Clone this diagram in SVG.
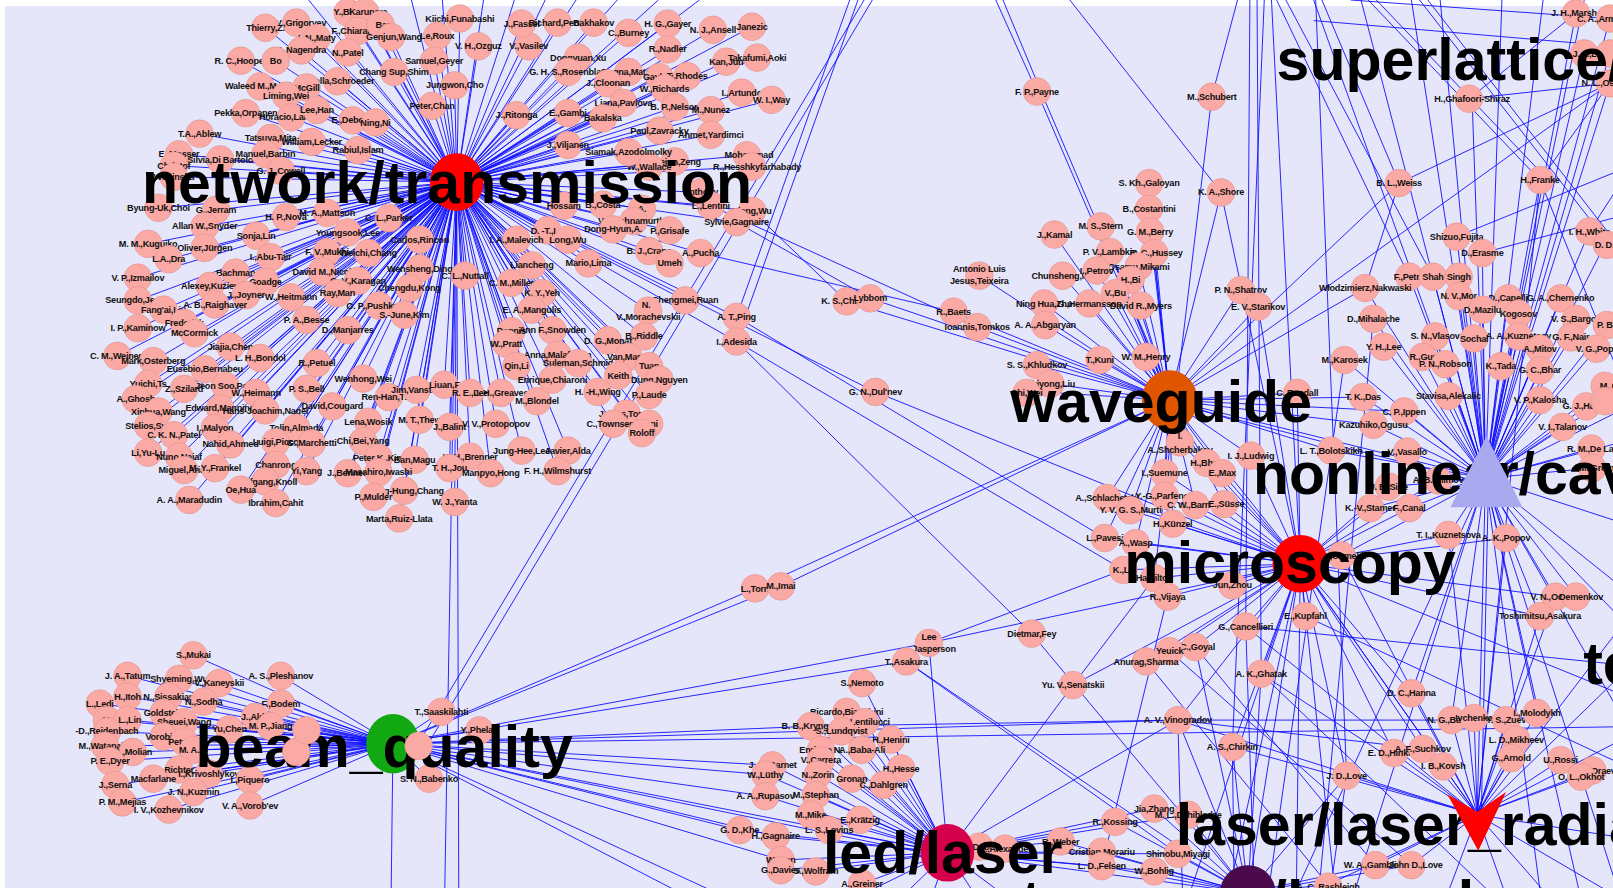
<svg xmlns="http://www.w3.org/2000/svg" width="1613" height="888" viewBox="0 0 1613 888">
<style>
.e{fill:none;stroke:#0c0cff;stroke-width:0.95;opacity:0.9}
#authors circle{fill:#fba9a4;stroke:#de948f;stroke-width:0.6}
#authors text{font-family:"Liberation Sans",Arial,sans-serif;font-weight:bold;font-size:8.9px;text-anchor:middle;letter-spacing:-0.25px;fill:#111}
.hl{font-family:"Liberation Sans",Arial,sans-serif;font-weight:bold;font-size:57.4px;fill:#000}
</style>
<rect width="1613" height="888" fill="#ffffff"/>
<rect x="5" y="6" width="1608" height="882" fill="#e6e6fa"/>
<g transform="scale(1.0287)">
<g id="connectors">
<path class="e" d="M444 177L338 12M444 177L355 12M444 177L288 22M444 177L258 27M444 177L348 30M444 177L370 24M444 177L380 36M444 177L308 37M444 177L293 49M444 177L338 51M444 177L234 59M444 177L268 59M444 177L447 18M444 177L425 35M444 177L465 45M444 177L514 45M444 177L422 59M444 177L507 23M444 177L542 22M444 177L577 22M444 177L611 32M444 177L649 23M444 177L693 29M444 177L731 26M444 177L649 48M444 177L706 60M444 177L736 56M444 177L562 56M444 177L552 70M444 177L611 70M444 177L641 75M444 177L668 74M444 177L591 81M444 177L646 86M444 177L721 90M444 177L750 97M444 177L606 100M444 177L656 104M444 177L691 107M444 177L641 127M444 177L691 131M444 177L726 151M444 177L731 162M444 177L656 157M444 177L631 162M444 177L611 148M444 177L552 141M444 177L586 115M444 177L552 110M444 177L502 112M444 177L383 70M444 177L442 83M444 177L420 103M444 177L328 79M444 177L253 84M444 177L298 85M444 177L278 93M444 177L239 110M444 177L283 114M444 177L308 107M444 177L343 117M444 177L365 119M444 177L194 130M444 177L263 134M444 177L303 138M444 177L348 146M444 177L174 150M444 177L214 155M444 177L258 150M444 177L169 161M444 177L169 172M444 177L273 166M444 177L154 202M444 177L210 204M444 177L278 211M444 177L318 207M444 177L378 212M444 177L199 220M444 177L249 229M444 177L338 226M444 177L408 233M444 177L144 237M444 177L199 241M444 177L164 252M444 177L263 250M444 177L318 245M444 177L358 246M444 177L134 270M444 177L229 265M444 177L258 274M444 177L313 264M444 177L348 273M444 177L408 261M444 177L452 268M444 177L398 280M444 177L204 278M444 177L134 292M444 177L159 301M444 177L239 287M444 177L283 289M444 177L328 285M444 177L368 297M444 177L209 296M444 177L393 306M444 177L134 319M444 177L179 314M444 177L298 311M444 177L338 321M444 177L189 324M444 177L224 337M444 177L114 346M444 177L149 351M444 177L253 348M444 177L199 359M444 177L308 353M444 177L144 373M444 177L179 378M444 177L219 375M444 177L249 382M444 177L298 378M444 177L353 368M444 177L378 386M444 177L405 379M444 177L432 374M444 177L457 382M444 177L487 382M444 177L522 390M444 177L132 388M444 177L214 397M444 177L154 400M444 177L258 399M444 177L323 395M444 177L144 414M444 177L209 416M444 177L288 416M444 177L358 410M444 177L408 408M444 177L437 415M444 177L482 412M444 177L169 423M444 177L224 432M444 177L268 430M444 177L303 431M444 177L353 429M444 177L144 440M444 177L174 444M444 177L507 438M444 177L552 438M444 177L368 445M444 177L403 447M444 177L457 444M444 177L179 457M444 177L209 455M444 177L268 452M444 177L298 458M444 177L338 460M444 177L368 459M444 177L437 455M444 177L477 460M444 177L542 458M444 177L258 468M444 177L184 486M444 177L234 476M444 177L268 489M444 177L393 477M444 177L363 483M444 177L442 488M444 177L388 504M444 177L586 199M444 177L548 200M444 177L624 203M444 177L681 187M444 177L691 200M444 177L731 205M444 177L616 215M444 177L716 216M444 177L596 223M444 177L651 224M444 177L532 224M444 177L552 233M444 177L502 233M444 177L631 244M444 177L681 246M444 177L651 256M444 177L517 258M444 177L572 256M444 177L497 275M444 177L527 285M444 177L517 301M444 177L666 292M444 177L630 302M444 177L716 308M444 177L716 332M444 177L626 327M444 177L591 331M444 177L497 322M444 177L537 321M444 177L492 334M444 177L542 345M444 177L611 347M444 177L562 353M444 177L502 356M444 177L631 356M444 177L601 365M444 177L641 369M444 177L537 369M444 177L581 381M444 177L631 384M444 177L609 402M444 177L596 412M444 177L631 412M444 177L624 421M444 177L300 0M444 177L350 0M444 177L400 0M444 177L430 0M444 177L470 0M444 177L500 0M444 177L530 0M444 177L560 0M444 177L600 0M444 177L640 0M444 177L680 0M444 177L432 888M444 177L446 888M444 177L851 381"/>
<path class="e" d="M382 723L188 637M382 723L124 657M382 723L174 660M382 723L213 664M382 723L273 657M382 723L124 677M382 723L164 677M382 723L97 684M382 723L198 682M382 723L273 684M382 723L159 693M382 723L104 700M382 723L124 700M382 723L179 702M382 723L248 697M382 723L104 711M382 723L223 709M382 723L263 706M382 723L298 710M382 723L102 725M382 723L159 716M382 723L179 721M382 723L129 731M382 723L188 729M382 723L288 731M382 723L107 740M382 723L174 748M382 723L203 752M382 723L149 757M382 723L243 758M382 723L112 763M382 723L188 770M382 723L119 780M382 723L164 787M382 723L243 783M382 723L429 692M382 723L466 710M382 723L407 725M382 723L417 757M382 723L734 572M382 723L759 570M382 723L903 625M382 723L881 643M382 723L788 706M382 723L1613 706M382 723L1145 700M382 723L751 744M382 723L744 753M382 723L744 774M382 723L719 807M382 723L754 813M382 723L921 829M382 723L917 833M382 723L759 836M382 723L700 888M382 723L740 888M382 723L380 888M840 0L410 717M848 0L418 720"/>
<path class="e" d="M1137 389L1008 89M1140 389L1012 89M1137 389L1117 178M1137 389L1187 187M1137 389L1117 203M1137 389L1025 228M1137 389L1070 220M1137 389L1118 225M1137 389L1079 245M1137 389L1122 246M1137 389L1107 259M1137 389L1033 268M1137 389L1066 263M1137 389L1099 272M1137 389L1084 285M1137 389L1015 295M1137 389L1059 295M1137 389L1109 297M1137 389L952 268M1137 389L823 293M1137 389L846 290M1137 389L927 303M1137 389L950 318M1137 389L1016 316M1137 389L1069 350M1137 389L1114 347M1137 389L1008 355M1137 389L1021 373M1137 389L998 380M1137 389L1206 282M1137 389L1223 298M1137 389L1147 430M1137 389L1173 450M1137 389L1216 443M1137 389L1132 460M1137 389L1188 460M1137 389L1076 484M1137 389L1132 482M1137 389L1099 496M1137 389L1162 491M1137 389L1190 490M1137 389L1140 509M1137 389L1074 523M1137 389L1104 528M1137 389L734 572M1137 389L759 570M1137 389L1360 178M1137 389L1565 81M1137 389L1261 382M1137 389L1325 386M1137 389L1365 400M1137 389L1335 413M1137 389L1294 438M1137 389L1444 465M1140 392L1444 470M1137 389L1264 548M1137 389L1327 280M968 0L1008 89M975 0L1012 89M1040 0L1187 187M1203 0L1178 94M1178 94L1122 562M731 205L823 293M716 216L846 290M681 246L927 303M691 200L950 318M716 308L1074 523M716 332L1092 554M716 332L1003 616M851 381L1264 548M826 0L716 308M834 0L716 332"/>
<path class="e" d="M1264 548L1147 430M1264 548L1173 450M1264 548L1216 443M1264 548L1132 460M1264 548L1188 460M1264 548L1076 484M1264 548L1132 482M1264 548L1099 496M1264 548L1162 491M1264 548L1190 490M1264 548L1140 509M1264 548L1074 523M1264 548L1104 528M1264 548L1092 554M1264 548L1122 562M1264 548L1198 569M1264 548L1304 540M1264 548L1135 580M1264 548L1269 599M1264 548L1211 609M1264 548L1162 629M1264 548L1137 633M1264 548L1114 643M1264 548L1226 655M1264 548L1332 494M1264 548L1370 494M1264 548L1408 520M1264 548L1464 523M1264 548L1350 473M1264 548L1398 467M1264 548L1261 382M1264 548L1223 298M1264 548L1187 187M1264 548L903 625M1264 548L1043 666M1264 548L1145 700M1264 548L1198 726M1264 548L1372 674M1264 548L1309 754M1264 548L1436 792M1264 548L1213 868M1264 548L1150 888M1264 548L1190 888M1264 548L1260 888M1264 548L1300 888M1264 548L1512 580M1264 548L1497 599M1264 548L1355 732M1264 548L1403 745M1264 548L1383 728M1264 548L1613 690M1215 0L1211 609M1222 0L1226 655M1229 0L1198 726M1236 0L1264 548M1279 0L1309 754M903 625L1092 554M881 643L1145 830M903 625L921 829M1043 666L1122 562M1043 666L921 829M1003 616L1213 868M788 706L1145 700M1145 700L1383 728M1145 700L1411 700M1211 609L1220 888M1226 655L1213 868M1198 726L1200 888M1145 700L1150 888M1309 754L1290 888M1162 629L1337 841M1137 633L1372 841M1114 643L1291 860M1135 580L1071 842M1269 599L1613 760M1211 609L1613 650M1226 655L1470 888"/>
<path class="e" d="M1444 465L1431 96M1444 465L1532 13M1444 465L1565 18M1444 465L1540 52M1444 465L1565 52M1444 465L1565 81M1444 465L1497 175M1444 465L1416 230M1444 465L1441 246M1444 465L1545 225M1444 465L1560 238M1444 465L1370 269M1444 465L1393 269M1444 465L1418 269M1444 465L1418 288M1444 465L1466 290M1444 465L1517 290M1444 465L1441 301M1444 465L1476 305M1444 465L1327 280M1444 465L1335 310M1444 465L1532 310M1444 465L1562 316M1444 465L1395 327M1444 465L1433 329M1444 465L1476 327M1444 465L1527 328M1444 465L1552 339M1444 465L1345 337M1444 465L1497 339M1444 465L1307 350M1444 465L1383 347M1444 465L1405 354M1444 465L1459 356M1444 465L1497 360M1444 465L1325 386M1444 465L1408 385M1444 465L1497 389M1444 465L1542 395M1444 465L1365 400M1444 465L1335 413M1444 465L1519 415M1444 465L1547 436M1444 465L1560 375M1444 465L1560 390M1444 465L1294 438M1444 465L1368 439M1444 465L1398 467M1444 465L1350 473M1444 465L1332 494M1444 465L1370 494M1444 465L1548 455M1444 465L1408 520M1444 465L1464 523M1444 465L1304 540M1444 465L1512 580M1444 465L1532 580M1444 465L1497 599M1444 465L1372 674M1444 465L1411 700M1444 465L1494 693M1444 465L1436 792M1447 465L1440 792M1444 465L1500 888M1444 465L1540 888M1444 465L1580 888M1444 465L1613 760M1444 465L1613 380M1444 465L1613 420M1444 465L1613 520M1444 465L1613 600M1444 465L1613 640M1444 465L1277 0M1444 465L1323 0M1444 465L1372 0M1444 465L1400 0M1444 465L1460 0M1444 465L1500 0M1444 465L1540 0M1444 465L1310 888M1444 465L1250 888M1360 178L1565 81M1360 178L1327 280M1497 175L1565 81M1497 175L1436 792M1277 20L1535 42M1313 0L1565 18M1428 96L1565 81M1428 96L1532 13M1416 230L1613 150M1441 246L1613 200M1285 0L1360 178M1330 0L1497 175M1338 0L1505 175M1380 0L1613 300M1388 0L1613 290M1241 0L1370 269M1250 0L1393 269M1545 225L1613 120M1497 175L1613 460M1335 310L1280 888M1307 350L1230 888"/>
<path class="e" d="M1436 792L1372 674M1436 792L1411 700M1436 792L1433 698M1436 792L1464 700M1436 792L1494 693M1436 792L1474 719M1436 792L1355 732M1436 792L1383 728M1436 792L1469 737M1436 792L1517 739M1436 792L1548 749M1436 792L1537 755M1436 792L1403 745M1436 792L1309 754M1436 792L1337 841M1436 792L1372 841M1436 792L1291 860M1436 792L1400 888M1436 792L1470 888M1436 792L1520 888M1436 792L1600 888M1436 792L1613 700M1436 792L1613 820M1436 792L1211 609M1436 792L1226 655M1436 792L1198 726M1436 792L1145 700M1436 792L1512 580M1436 792L1497 599M1436 792L1464 523M1436 792L1408 520M1436 792L1304 540M1436 792L1613 560M1436 792L1613 620"/>
<path class="e" d="M921 829L838 664M921 829L823 692M921 829L841 702M921 829L788 706M921 829L818 711M921 829L866 719M921 829L798 729M921 829L838 729M921 829L798 739M921 829L876 747M921 829L751 744M921 829L744 753M921 829L795 753M921 829L828 757M921 829L859 763M921 829L744 774M921 829L793 773M921 829L788 792M921 829L836 797M921 829L806 807M921 829L719 807M921 829L754 813M921 829L759 836M921 829L759 846M921 829L793 847M921 829L838 859M921 829L952 823M921 829L977 825M921 829L1031 818M921 829L1084 799M921 829L1122 786M921 829L1155 792M921 829L1071 828M921 829L1145 830M921 829L1071 842M921 829L1122 847M921 829L1213 868M921 829L1145 700M921 829L860 888M921 829L900 888M921 829L960 888M921 829L1000 888M921 829L800 888M1213 868L1031 818M1213 868L1071 828M1213 868L1071 842M1213 868L1122 847M1213 868L1145 830M1213 868L1084 799M1213 868L1122 786M1213 868L1155 792M1213 868L1337 841M1213 868L1372 841M1213 868L1291 860M1213 868L1309 754M1213 868L1162 629M1213 868L1145 700M1213 868L1198 726M1213 868L881 643"/>
</g>
<g id="authors">
<g id="p1"><circle cx="338" cy="12" r="13.5"/><text x="338" y="15">Y.,Blad</text></g>
<g id="p2"><circle cx="355" cy="12" r="13.5"/><text x="358" y="15">Karunara</text></g>
<g id="p3"><circle cx="288" cy="22" r="13.5"/><text x="288" y="25">V. V.,Grigoryev</text></g>
<g id="p4"><circle cx="258" cy="27" r="13.5"/><text x="258" y="30">Thierry,Z.</text></g>
<g id="p5"><circle cx="348" cy="30" r="13.5"/><text x="348" y="33">F.,Chiaraluce</text></g>
<g id="p6"><circle cx="370" cy="24" r="13.5"/><text x="372" y="27">Bar</text></g>
<g id="p7"><circle cx="380" cy="36" r="13.5"/><text x="383" y="39">Genjun,Wang</text></g>
<g id="p8"><circle cx="308" cy="37" r="13.5"/><text x="308" y="40">I. N.,Maty</text></g>
<g id="p9"><circle cx="293" cy="49" r="13.5"/><text x="293" y="52">J.,Nagendra</text></g>
<g id="p10"><circle cx="338" cy="51" r="13.5"/><text x="338" y="54">N.,Patel</text></g>
<g id="p11"><circle cx="234" cy="59" r="13.5"/><text x="234" y="62">R. C.,Hooper</text></g>
<g id="p12"><circle cx="268" cy="59" r="13.5"/><text x="268" y="62">Bo</text></g>
<g id="p13"><circle cx="447" cy="18" r="13.5"/><text x="447" y="21">Kiichi,Funabashi</text></g>
<g id="p14"><circle cx="425" cy="35" r="13.5"/><text x="425" y="38">Le,Roux</text></g>
<g id="p15"><circle cx="465" cy="45" r="13.5"/><text x="465" y="48">V. H.,Ozguz</text></g>
<g id="p16"><circle cx="514" cy="45" r="13.5"/><text x="514" y="48">V.,Vasilev</text></g>
<g id="p17"><circle cx="422" cy="59" r="13.5"/><text x="422" y="62">Samuel,Geyer</text></g>
<g id="p18"><circle cx="507" cy="23" r="13.5"/><text x="507" y="26">J.,Fassel</text></g>
<g id="p19"><circle cx="542" cy="22" r="13.5"/><text x="542" y="25">Richard,Penty</text></g>
<g id="p20"><circle cx="577" cy="22" r="13.5"/><text x="577" y="25">Bakhakov</text></g>
<g id="p21"><circle cx="611" cy="32" r="13.5"/><text x="611" y="35">C.,Burney</text></g>
<g id="p22"><circle cx="649" cy="23" r="13.5"/><text x="649" y="26">H. G.,Gayer</text></g>
<g id="p23"><circle cx="693" cy="29" r="13.5"/><text x="693" y="32">N. J.,Ansell</text></g>
<g id="p24"><circle cx="731" cy="26" r="13.5"/><text x="731" y="29">Janezic</text></g>
<g id="p25"><circle cx="649" cy="48" r="13.5"/><text x="649" y="51">R.,Nadler</text></g>
<g id="p26"><circle cx="706" cy="60" r="13.5"/><text x="706" y="63">Kan,Jun</text></g>
<g id="p27"><circle cx="736" cy="56" r="13.5"/><text x="736" y="59">Takafumi,Aoki</text></g>
<g id="p28"><circle cx="562" cy="56" r="13.5"/><text x="562" y="59">Dongyuan,Xu</text></g>
<g id="p29"><circle cx="552" cy="70" r="13.5"/><text x="552" y="73">G. H. S.,Rosenblatt</text></g>
<g id="p30"><circle cx="611" cy="70" r="13.5"/><text x="611" y="73">Pagna,Matsz</text></g>
<g id="p31"><circle cx="641" cy="75" r="13.5"/><text x="641" y="78">Gaylord</text></g>
<g id="p32"><circle cx="668" cy="74" r="13.5"/><text x="668" y="77">T.,Rhodes</text></g>
<g id="p33"><circle cx="591" cy="81" r="13.5"/><text x="591" y="84">J.,Cloonan</text></g>
<g id="p34"><circle cx="646" cy="86" r="13.5"/><text x="646" y="89">W.,Richards</text></g>
<g id="p35"><circle cx="721" cy="90" r="13.5"/><text x="721" y="93">I.,Artundo</text></g>
<g id="p36"><circle cx="750" cy="97" r="13.5"/><text x="750" y="100">W. I.,Way</text></g>
<g id="p37"><circle cx="606" cy="100" r="13.5"/><text x="606" y="103">Liana,Pavlova</text></g>
<g id="p38"><circle cx="656" cy="104" r="13.5"/><text x="656" y="107">B. P.,Nelson</text></g>
<g id="p39"><circle cx="691" cy="107" r="13.5"/><text x="691" y="110">M.,Nunez</text></g>
<g id="p40"><circle cx="641" cy="127" r="13.5"/><text x="641" y="130">Paul,Zavracky</text></g>
<g id="p41"><circle cx="691" cy="131" r="13.5"/><text x="691" y="134">Ahmet,Yardimci</text></g>
<g id="p42"><circle cx="726" cy="151" r="13.5"/><text x="728" y="154">Mohammad</text></g>
<g id="p43"><circle cx="731" cy="162" r="13.5"/><text x="736" y="165">R.,Hesshkyfarhabady</text></g>
<g id="p44"><circle cx="656" cy="157" r="13.5"/><text x="656" y="160">Xuejun,Zeng</text></g>
<g id="p45"><circle cx="631" cy="162" r="13.5"/><text x="631" y="165">W.,Wallace</text></g>
<g id="p46"><circle cx="611" cy="148" r="13.5"/><text x="611" y="151">Siamak,Azodolmolky</text></g>
<g id="p47"><circle cx="552" cy="141" r="13.5"/><text x="552" y="144">J.,Viljanen</text></g>
<g id="p48"><circle cx="586" cy="115" r="13.5"/><text x="586" y="118">Bakalska</text></g>
<g id="p49"><circle cx="552" cy="110" r="13.5"/><text x="552" y="113">E.,Gambi</text></g>
<g id="p50"><circle cx="502" cy="112" r="13.5"/><text x="502" y="115">J.,Ritonga</text></g>
<g id="p51"><circle cx="383" cy="70" r="13.5"/><text x="383" y="73">Chang Sup,Shim</text></g>
<g id="p52"><circle cx="442" cy="83" r="13.5"/><text x="442" y="86">Jungwon,Cho</text></g>
<g id="p53"><circle cx="420" cy="103" r="13.5"/><text x="420" y="106">Peter,Chan</text></g>
<g id="p54"><circle cx="328" cy="79" r="13.5"/><text x="328" y="82">T.,Vella,Schroeder</text></g>
<g id="p55"><circle cx="253" cy="84" r="13.5"/><text x="253" y="87">Waleed M.,Melais</text></g>
<g id="p56"><circle cx="298" cy="85" r="13.5"/><text x="298" y="88">McGill</text></g>
<g id="p57"><circle cx="278" cy="93" r="13.5"/><text x="278" y="96">Liming,Wei</text></g>
<g id="p58"><circle cx="239" cy="110" r="13.5"/><text x="239" y="113">Pekka,Orpanen</text></g>
<g id="p59"><circle cx="283" cy="114" r="13.5"/><text x="283" y="117">Horacio,Lamela</text></g>
<g id="p60"><circle cx="308" cy="107" r="13.5"/><text x="308" y="110">Lee,Han</text></g>
<g id="p61"><circle cx="343" cy="117" r="13.5"/><text x="343" y="120">E.,Debono</text></g>
<g id="p62"><circle cx="365" cy="119" r="13.5"/><text x="365" y="122">Ning,Ni</text></g>
<g id="p63"><circle cx="194" cy="130" r="13.5"/><text x="194" y="133">T.A.,Ablew</text></g>
<g id="p64"><circle cx="263" cy="134" r="13.5"/><text x="263" y="137">Tatsuya,Mita</text></g>
<g id="p65"><circle cx="303" cy="138" r="13.5"/><text x="303" y="141">William,Lecker</text></g>
<g id="p66"><circle cx="348" cy="146" r="13.5"/><text x="348" y="149">Rabiul,Islam</text></g>
<g id="p67"><circle cx="174" cy="150" r="13.5"/><text x="174" y="153">E.,Mosser</text></g>
<g id="p68"><circle cx="214" cy="155" r="13.5"/><text x="214" y="158">Silvia,Di Bartolo</text></g>
<g id="p69"><circle cx="258" cy="150" r="13.5"/><text x="258" y="153">Manuel,Barbin</text></g>
<g id="p70"><circle cx="169" cy="161" r="13.5"/><text x="169" y="164">Christof</text></g>
<g id="p71"><circle cx="169" cy="172" r="13.5"/><text x="169" y="175">Wosinska</text></g>
<g id="p72"><circle cx="273" cy="166" r="13.5"/><text x="273" y="169">G. J.,Cowell</text></g>
<g id="p73"><circle cx="154" cy="202" r="13.5"/><text x="154" y="205">Byung-Uk,Choi</text></g>
<g id="p74"><circle cx="210" cy="204" r="13.5"/><text x="210" y="207">G.,Jerram</text></g>
<g id="p75"><circle cx="278" cy="211" r="13.5"/><text x="278" y="214">H. P.,Nova</text></g>
<g id="p76"><circle cx="318" cy="207" r="13.5"/><text x="318" y="210">M. A.,Mattson</text></g>
<g id="p77"><circle cx="378" cy="212" r="13.5"/><text x="378" y="215">C. L.,Parker</text></g>
<g id="p78"><circle cx="199" cy="220" r="13.5"/><text x="199" y="223">Allan W.,Snyder</text></g>
<g id="p79"><circle cx="249" cy="229" r="13.5"/><text x="249" y="232">Sonja,Lin</text></g>
<g id="p80"><circle cx="338" cy="226" r="13.5"/><text x="338" y="229">Youngsook,Lee</text></g>
<g id="p81"><circle cx="408" cy="233" r="13.5"/><text x="408" y="236">Carlos,Rincon</text></g>
<g id="p82"><circle cx="144" cy="237" r="13.5"/><text x="144" y="240">M. M.,Kuguiko</text></g>
<g id="p83"><circle cx="199" cy="241" r="13.5"/><text x="199" y="244">Oliver,Jürgen</text></g>
<g id="p84"><circle cx="164" cy="252" r="13.5"/><text x="164" y="255">L.A.,Dra</text></g>
<g id="p85"><circle cx="263" cy="250" r="13.5"/><text x="263" y="253">I.,Abu-Tair</text></g>
<g id="p86"><circle cx="318" cy="245" r="13.5"/><text x="318" y="248">F. V.,Mukhi</text></g>
<g id="p87"><circle cx="358" cy="246" r="13.5"/><text x="358" y="249">Weichi,Chang</text></g>
<g id="p88"><circle cx="134" cy="270" r="13.5"/><text x="134" y="273">V. P.,Izmailov</text></g>
<g id="p89"><circle cx="229" cy="265" r="13.5"/><text x="229" y="268">Bachman</text></g>
<g id="p90"><circle cx="258" cy="274" r="13.5"/><text x="258" y="277">Goadge</text></g>
<g id="p91"><circle cx="313" cy="264" r="13.5"/><text x="313" y="267">David M.,Nicol</text></g>
<g id="p92"><circle cx="348" cy="273" r="13.5"/><text x="348" y="276">O. V.,Karagan</text></g>
<g id="p93"><circle cx="408" cy="261" r="13.5"/><text x="408" y="264">Wensheng,Ding</text></g>
<g id="p94"><circle cx="452" cy="268" r="13.5"/><text x="452" y="271">C. L.,Nuttall</text></g>
<g id="p95"><circle cx="398" cy="280" r="13.5"/><text x="398" y="283">Chengdu,Kong</text></g>
<g id="p96"><circle cx="204" cy="278" r="13.5"/><text x="204" y="281">Alexey,Kuziev</text></g>
<g id="p97"><circle cx="134" cy="292" r="13.5"/><text x="134" y="295">Seungdo,Jeong</text></g>
<g id="p98"><circle cx="159" cy="301" r="13.5"/><text x="159" y="304">Fang'ai,Liu</text></g>
<g id="p99"><circle cx="239" cy="287" r="13.5"/><text x="239" y="290">J.,Joyner</text></g>
<g id="p100"><circle cx="283" cy="289" r="13.5"/><text x="283" y="292">W.,Heitmann</text></g>
<g id="p101"><circle cx="328" cy="285" r="13.5"/><text x="328" y="288">Ray,Man</text></g>
<g id="p102"><circle cx="368" cy="297" r="13.5"/><text x="368" y="300">O. P.,Pushkarev</text></g>
<g id="p103"><circle cx="209" cy="296" r="13.5"/><text x="209" y="299">A. B.,Raighaver</text></g>
<g id="p104"><circle cx="393" cy="306" r="13.5"/><text x="393" y="309">S.-June,Kim</text></g>
<g id="p105"><circle cx="134" cy="319" r="13.5"/><text x="134" y="322">I. P.,Kaminow</text></g>
<g id="p106"><circle cx="179" cy="314" r="13.5"/><text x="179" y="317">Frederick</text></g>
<g id="p107"><circle cx="298" cy="311" r="13.5"/><text x="298" y="314">P. A.,Besse</text></g>
<g id="p108"><circle cx="338" cy="321" r="13.5"/><text x="338" y="324">D.,Manjarres</text></g>
<g id="p109"><circle cx="189" cy="324" r="13.5"/><text x="189" y="327">McCormick</text></g>
<g id="p110"><circle cx="224" cy="337" r="13.5"/><text x="224" y="340">Jiajia,Chen</text></g>
<g id="p111"><circle cx="114" cy="346" r="13.5"/><text x="114" y="349">C. M.,Weinert</text></g>
<g id="p112"><circle cx="149" cy="351" r="13.5"/><text x="149" y="354">Mark,Osterberg</text></g>
<g id="p113"><circle cx="253" cy="348" r="13.5"/><text x="253" y="351">L. H.,Bondol</text></g>
<g id="p114"><circle cx="199" cy="359" r="13.5"/><text x="199" y="362">Eusebio,Bernabeu</text></g>
<g id="p115"><circle cx="308" cy="353" r="13.5"/><text x="308" y="356">R.,Petuel</text></g>
<g id="p116"><circle cx="144" cy="373" r="13.5"/><text x="144" y="376">Yuichi,Ts</text></g>
<g id="p117"><circle cx="179" cy="378" r="13.5"/><text x="179" y="381">Z.,Szilard</text></g>
<g id="p118"><circle cx="219" cy="375" r="13.5"/><text x="219" y="378">Jeon Soo,Park</text></g>
<g id="p119"><circle cx="249" cy="382" r="13.5"/><text x="249" y="385">W.,Heimann</text></g>
<g id="p120"><circle cx="298" cy="378" r="13.5"/><text x="298" y="381">P. S.,Bell</text></g>
<g id="p121"><circle cx="353" cy="368" r="13.5"/><text x="353" y="371">Wenhong,Wei</text></g>
<g id="p122"><circle cx="378" cy="386" r="13.5"/><text x="378" y="389">Ren-Han,Tsai</text></g>
<g id="p123"><circle cx="405" cy="379" r="13.5"/><text x="405" y="382">Jim,Vanston</text></g>
<g id="p124"><circle cx="432" cy="374" r="13.5"/><text x="432" y="377">Liuan,F</text></g>
<g id="p125"><circle cx="457" cy="382" r="13.5"/><text x="457" y="385">R. E.,Lee</text></g>
<g id="p126"><circle cx="487" cy="382" r="13.5"/><text x="487" y="385">J. H.,Greaves</text></g>
<g id="p127"><circle cx="522" cy="390" r="13.5"/><text x="522" y="393">M.,Blondel</text></g>
<g id="p128"><circle cx="132" cy="388" r="13.5"/><text x="132" y="391">A.,Ghosh</text></g>
<g id="p129"><circle cx="214" cy="397" r="13.5"/><text x="214" y="400">Edward,Manning</text></g>
<g id="p130"><circle cx="154" cy="400" r="13.5"/><text x="154" y="403">Xinhua,Wang</text></g>
<g id="p131"><circle cx="258" cy="399" r="13.5"/><text x="258" y="402">Hans-Joachim,Nagel</text></g>
<g id="p132"><circle cx="323" cy="395" r="13.5"/><text x="323" y="398">David,Cougard</text></g>
<g id="p133"><circle cx="144" cy="414" r="13.5"/><text x="144" y="417">Stelios,Syy</text></g>
<g id="p134"><circle cx="209" cy="416" r="13.5"/><text x="209" y="419">I.,Malyon</text></g>
<g id="p135"><circle cx="288" cy="416" r="13.5"/><text x="288" y="419">Tolin,Almada</text></g>
<g id="p136"><circle cx="358" cy="410" r="13.5"/><text x="358" y="413">Lena,Wosik</text></g>
<g id="p137"><circle cx="408" cy="408" r="13.5"/><text x="408" y="411">M. T.,Thew</text></g>
<g id="p138"><circle cx="437" cy="415" r="13.5"/><text x="437" y="418">J.,Balint</text></g>
<g id="p139"><circle cx="482" cy="412" r="13.5"/><text x="482" y="415">V. V.,Protopopov</text></g>
<g id="p140"><circle cx="169" cy="423" r="13.5"/><text x="169" y="426">C. K. N.,Patel</text></g>
<g id="p141"><circle cx="224" cy="432" r="13.5"/><text x="224" y="435">Nahid,Ahmed</text></g>
<g id="p142"><circle cx="268" cy="430" r="13.5"/><text x="268" y="433">Luigi,Picco</text></g>
<g id="p143"><circle cx="303" cy="431" r="13.5"/><text x="303" y="434">G.,Marchetti</text></g>
<g id="p144"><circle cx="353" cy="429" r="13.5"/><text x="353" y="432">Chi,Bei,Yang</text></g>
<g id="p145"><circle cx="144" cy="440" r="13.5"/><text x="144" y="443">Li,Yu-Lu</text></g>
<g id="p146"><circle cx="174" cy="444" r="13.5"/><text x="174" y="447">Nuno,Najaf</text></g>
<g id="p147"><circle cx="507" cy="438" r="13.5"/><text x="507" y="441">Jung-Hee,Lee</text></g>
<g id="p148"><circle cx="552" cy="438" r="13.5"/><text x="552" y="441">Javier,Alda</text></g>
<g id="p149"><circle cx="368" cy="445" r="13.5"/><text x="368" y="448">Peter K.,Kim</text></g>
<g id="p150"><circle cx="403" cy="447" r="13.5"/><text x="403" y="450">Ban,Magu</text></g>
<g id="p151"><circle cx="457" cy="444" r="13.5"/><text x="457" y="447">K. H.,Brenner</text></g>
<g id="p152"><circle cx="179" cy="457" r="13.5"/><text x="179" y="460">Miguel,Arias</text></g>
<g id="p153"><circle cx="209" cy="455" r="13.5"/><text x="209" y="458">M. Y.,Frankel</text></g>
<g id="p154"><circle cx="268" cy="452" r="13.5"/><text x="268" y="455">Chanrong</text></g>
<g id="p155"><circle cx="298" cy="458" r="13.5"/><text x="298" y="461">Yi,Yang</text></g>
<g id="p156"><circle cx="338" cy="460" r="13.5"/><text x="338" y="463">J.,Bennett</text></g>
<g id="p157"><circle cx="368" cy="459" r="13.5"/><text x="368" y="462">Masahiro,Iwashi</text></g>
<g id="p158"><circle cx="437" cy="455" r="13.5"/><text x="437" y="458">T. H.,Jou</text></g>
<g id="p159"><circle cx="477" cy="460" r="13.5"/><text x="477" y="463">Manpyo,Hong</text></g>
<g id="p160"><circle cx="542" cy="458" r="13.5"/><text x="542" y="461">F. H.,Wilmshurst</text></g>
<g id="p161"><circle cx="258" cy="468" r="13.5"/><text x="258" y="471">Wolfgang,Knoll</text></g>
<g id="p162"><circle cx="184" cy="486" r="13.5"/><text x="184" y="489">A. A.,Maradudin</text></g>
<g id="p163"><circle cx="234" cy="476" r="13.5"/><text x="234" y="479">Oe,Hua</text></g>
<g id="p164"><circle cx="268" cy="489" r="13.5"/><text x="268" y="492">Ibrahim,Cahit</text></g>
<g id="p165"><circle cx="393" cy="477" r="13.5"/><text x="393" y="480">Ching-Hung,Chang</text></g>
<g id="p166"><circle cx="363" cy="483" r="13.5"/><text x="363" y="486">P.,Mulder</text></g>
<g id="p167"><circle cx="442" cy="488" r="13.5"/><text x="442" y="491">W. J.,Yanta</text></g>
<g id="p168"><circle cx="388" cy="504" r="13.5"/><text x="388" y="507">Marta,Ruiz-Llata</text></g>
<g id="p169"><circle cx="586" cy="199" r="13.5"/><text x="586" y="202">B.,Costa</text></g>
<g id="p170"><circle cx="548" cy="200" r="13.5"/><text x="548" y="203">Hossam</text></g>
<g id="p171"><circle cx="624" cy="203" r="13.5"/><text x="624" y="206">A.</text></g>
<g id="p172"><circle cx="681" cy="187" r="13.5"/><text x="681" y="190">Anthony</text></g>
<g id="p173"><circle cx="691" cy="200" r="13.5"/><text x="691" y="203">L.,Lentini</text></g>
<g id="p174"><circle cx="731" cy="205" r="13.5"/><text x="731" y="208">Xiang,Wu</text></g>
<g id="p175"><circle cx="616" cy="215" r="13.5"/><text x="616" y="218">V.,Krishnamurthy</text></g>
<g id="p176"><circle cx="716" cy="216" r="13.5"/><text x="716" y="219">Sylvie,Gagnaire</text></g>
<g id="p177"><circle cx="596" cy="223" r="13.5"/><text x="596" y="226">Dong-Hyun,A.</text></g>
<g id="p178"><circle cx="651" cy="224" r="13.5"/><text x="651" y="227">P.,Grisafe</text></g>
<g id="p179"><circle cx="532" cy="224" r="13.5"/><text x="532" y="227">D. -T.,Lu</text></g>
<g id="p180"><circle cx="552" cy="233" r="13.5"/><text x="552" y="236">Long,Wu</text></g>
<g id="p181"><circle cx="502" cy="233" r="13.5"/><text x="502" y="236">I. A.,Malevich</text></g>
<g id="p182"><circle cx="631" cy="244" r="13.5"/><text x="631" y="247">B. J.,Crapo</text></g>
<g id="p183"><circle cx="681" cy="246" r="13.5"/><text x="681" y="249">A.,Pucha</text></g>
<g id="p184"><circle cx="651" cy="256" r="13.5"/><text x="651" y="259">Umeh</text></g>
<g id="p185"><circle cx="517" cy="258" r="13.5"/><text x="517" y="261">Liancheng</text></g>
<g id="p186"><circle cx="572" cy="256" r="13.5"/><text x="572" y="259">Mario,Lima</text></g>
<g id="p187"><circle cx="497" cy="275" r="13.5"/><text x="497" y="278">C. M.,Miller</text></g>
<g id="p188"><circle cx="527" cy="285" r="13.5"/><text x="527" y="288">K. Y.,Yeh</text></g>
<g id="p189"><circle cx="517" cy="301" r="13.5"/><text x="517" y="304">E. A.,Mangulis</text></g>
<g id="p190"><circle cx="666" cy="292" r="13.5"/><text x="666" y="295">Chengmei,Ruan</text></g>
<g id="p191"><circle cx="630" cy="302" r="13.5"/><text x="628" y="299">N.</text><text x="630" y="311">V.,Morachevskii</text></g>
<g id="p192"><circle cx="716" cy="308" r="13.5"/><text x="716" y="311">A. T.,Ping</text></g>
<g id="p193"><circle cx="716" cy="332" r="13.5"/><text x="716" y="335">I.,Adesida</text></g>
<g id="p194"><circle cx="626" cy="327" r="13.5"/><text x="626" y="330">B.,Riddle</text></g>
<g id="p195"><circle cx="591" cy="331" r="13.5"/><text x="591" y="334">D. G.,Monat</text></g>
<g id="p196"><circle cx="497" cy="322" r="13.5"/><text x="497" y="325">Dennis</text></g>
<g id="p197"><circle cx="537" cy="321" r="13.5"/><text x="537" y="324">Ann F.,Snowden</text></g>
<g id="p198"><circle cx="492" cy="334" r="13.5"/><text x="492" y="337">W.,Pratt</text></g>
<g id="p199"><circle cx="542" cy="345" r="13.5"/><text x="542" y="348">Anna,Malafejska</text></g>
<g id="p200"><circle cx="611" cy="347" r="13.5"/><text x="611" y="350">Van,Marck</text></g>
<g id="p201"><circle cx="562" cy="353" r="13.5"/><text x="562" y="356">Suleman,Schmid</text></g>
<g id="p202"><circle cx="502" cy="356" r="13.5"/><text x="502" y="359">Qin,Li</text></g>
<g id="p203"><circle cx="631" cy="356" r="13.5"/><text x="631" y="359">Tuan</text></g>
<g id="p204"><circle cx="601" cy="365" r="13.5"/><text x="601" y="368">Keith</text></g>
<g id="p205"><circle cx="641" cy="369" r="13.5"/><text x="641" y="372">Dung,Nguyen</text></g>
<g id="p206"><circle cx="537" cy="369" r="13.5"/><text x="537" y="372">Enrique,Chiaroni</text></g>
<g id="p207"><circle cx="581" cy="381" r="13.5"/><text x="581" y="384">H. -H.,Wing</text></g>
<g id="p208"><circle cx="631" cy="384" r="13.5"/><text x="631" y="387">P.,Laude</text></g>
<g id="p209"><circle cx="609" cy="402" r="13.5"/><text x="609" y="405">James,Torglo</text></g>
<g id="p210"><circle cx="596" cy="412" r="13.5"/><text x="596" y="415">C.,Townsend</text></g>
<g id="p211"><circle cx="631" cy="412" r="13.5"/><text x="631" y="415">Toni</text></g>
<g id="p212"><circle cx="624" cy="421" r="13.5"/><text x="624" y="424">Roloff</text></g>
<g id="q1"><circle cx="1008" cy="89" r="13.5"/><text x="1008" y="92">F. P.,Payne</text></g>
<g id="q2"><circle cx="1178" cy="94" r="13.5"/><text x="1178" y="97">M.,Schubert</text></g>
<g id="q3"><circle cx="1117" cy="178" r="13.5"/><text x="1117" y="181">S. Kh.,Galoyan</text></g>
<g id="q4"><circle cx="1187" cy="187" r="13.5"/><text x="1187" y="190">K. A.,Shore</text></g>
<g id="q5"><circle cx="1117" cy="203" r="13.5"/><text x="1117" y="206">B.,Costantini</text></g>
<g id="q6"><circle cx="1025" cy="228" r="13.5"/><text x="1025" y="231">J.,Kamal</text></g>
<g id="q7"><circle cx="1070" cy="220" r="13.5"/><text x="1070" y="223">M. S.,Stern</text></g>
<g id="q8"><circle cx="1118" cy="225" r="13.5"/><text x="1118" y="228">G. M.,Berry</text></g>
<g id="q9"><circle cx="1079" cy="245" r="13.5"/><text x="1079" y="248">P. V.,Lambkin</text></g>
<g id="q10"><circle cx="1122" cy="246" r="13.5"/><text x="1124" y="249">R. C.,Hussey</text></g>
<g id="q11"><circle cx="1107" cy="259" r="13.5"/><text x="1107" y="262">Osamu,Mikami</text></g>
<g id="q12"><circle cx="1033" cy="268" r="13.5"/><text x="1033" y="271">Chunsheng,Ma</text></g>
<g id="q13"><circle cx="1066" cy="263" r="13.5"/><text x="1066" y="266">I.,Petrov</text></g>
<g id="q14"><circle cx="1099" cy="272" r="13.5"/><text x="1099" y="275">H.,Bi</text></g>
<g id="q15"><circle cx="1084" cy="285" r="13.5"/><text x="1084" y="288">V.,Bu</text></g>
<g id="q16"><circle cx="1015" cy="295" r="13.5"/><text x="1015" y="298">Ning Hua,Zhu</text></g>
<g id="q17"><circle cx="1059" cy="295" r="13.5"/><text x="1059" y="298">G.,Hermansson</text></g>
<g id="q18"><circle cx="1109" cy="297" r="13.5"/><text x="1109" y="300">David R.,Myers</text></g>
<g id="q19"><circle cx="952" cy="268" r="13.5"/><text x="952" y="264">Antonio Luis</text><text x="952" y="276">Jesus,Teixeira</text></g>
<g id="q20"><circle cx="823" cy="293" r="13.5"/><text x="823" y="296">K. S.,Chiang</text></g>
<g id="q21"><circle cx="846" cy="290" r="13.5"/><text x="846" y="293">Lybbom</text></g>
<g id="q22"><circle cx="927" cy="303" r="13.5"/><text x="927" y="306">R.,Baets</text></g>
<g id="q23"><circle cx="950" cy="318" r="13.5"/><text x="950" y="321">Ioannis,Tomkos</text></g>
<g id="q24"><circle cx="1016" cy="316" r="13.5"/><text x="1016" y="319">A. A.,Abgaryan</text></g>
<g id="q25"><circle cx="1069" cy="350" r="13.5"/><text x="1069" y="353">T.,Kuni</text></g>
<g id="q26"><circle cx="1114" cy="347" r="13.5"/><text x="1114" y="350">W. M.,Henry</text></g>
<g id="q27"><circle cx="1008" cy="355" r="13.5"/><text x="1008" y="358">S. S.,Khludkov</text></g>
<g id="q28"><circle cx="1021" cy="373" r="13.5"/><text x="1021" y="376">Shiyong,Liu</text></g>
<g id="q29"><circle cx="998" cy="382" r="13.5"/><text x="998" y="385">Chi,Wei</text></g>
<g id="q30"><circle cx="851" cy="381" r="13.5"/><text x="851" y="384">G. N.,Dul'nev</text></g>
<g id="q31"><circle cx="1261" cy="382" r="13.5"/><text x="1261" y="385">C.,Randall</text></g>
<g id="q32"><circle cx="1206" cy="282" r="13.5"/><text x="1206" y="285">P. N.,Shatrov</text></g>
<g id="q33"><circle cx="1223" cy="298" r="13.5"/><text x="1223" y="301">E. V.,Starikov</text></g>
<g id="q34"><circle cx="1147" cy="430" r="13.5"/><text x="1147" y="427">I.</text><text x="1147" y="440">A.,Shcherbakov</text></g>
<g id="q35"><circle cx="1173" cy="450" r="13.5"/><text x="1173" y="453">H.,Bhatt</text></g>
<g id="q36"><circle cx="1216" cy="443" r="13.5"/><text x="1216" y="446">I. J.,Ludwig</text></g>
<g id="q37"><circle cx="1132" cy="460" r="13.5"/><text x="1132" y="463">I.,Suemune</text></g>
<g id="q38"><circle cx="1188" cy="460" r="13.5"/><text x="1188" y="463">E.,Max</text></g>
<g id="q39"><circle cx="1076" cy="484" r="13.5"/><text x="1076" y="487">A.,Schlachetzki</text></g>
<g id="q40"><circle cx="1132" cy="482" r="13.5"/><text x="1132" y="485">Y.-G.,Parfenov</text></g>
<g id="q41"><circle cx="1099" cy="496" r="13.5"/><text x="1099" y="499">Y. V. G. S.,Murti</text></g>
<g id="q42"><circle cx="1162" cy="491" r="13.5"/><text x="1162" y="494">C. W.,Barnard</text></g>
<g id="q43"><circle cx="1190" cy="490" r="13.5"/><text x="1192" y="493">E.,Süsse</text></g>
<g id="q44"><circle cx="1140" cy="509" r="13.5"/><text x="1140" y="512">H.,Künzel</text></g>
<g id="q45"><circle cx="1074" cy="523" r="13.5"/><text x="1074" y="526">L.,Pavesi</text></g>
<g id="q46"><circle cx="1104" cy="528" r="13.5"/><text x="1104" y="531">A.,Wasp</text></g>
<g id="q47"><circle cx="1092" cy="554" r="13.5"/><text x="1092" y="557">K.,Le</text></g>
<g id="q48"><circle cx="1122" cy="562" r="13.5"/><text x="1122" y="565">Hamilton</text></g>
<g id="q49"><circle cx="1198" cy="569" r="13.5"/><text x="1198" y="572">Jun,Zhou</text></g>
<g id="q50"><circle cx="1304" cy="540" r="13.5"/><text x="1306" y="543">R.,Chmelik</text></g>
<g id="q51"><circle cx="1135" cy="580" r="13.5"/><text x="1135" y="583">R.,Vijaya</text></g>
<g id="q52"><circle cx="1269" cy="599" r="13.5"/><text x="1269" y="602">E.,Kupfahl</text></g>
<g id="q53"><circle cx="1211" cy="609" r="13.5"/><text x="1211" y="612">G.,Cancellieri</text></g>
<g id="q54"><circle cx="1162" cy="629" r="13.5"/><text x="1164" y="632">C.,Goyal</text></g>
<g id="q55"><circle cx="1137" cy="633" r="13.5"/><text x="1137" y="636">Yeuick</text></g>
<g id="q56"><circle cx="1114" cy="643" r="13.5"/><text x="1114" y="646">Anurag,Sharma</text></g>
<g id="q57"><circle cx="1226" cy="655" r="13.5"/><text x="1226" y="658">A. K.,Ghatak</text></g>
<g id="q58"><circle cx="1003" cy="616" r="13.5"/><text x="1003" y="619">Dietmar,Fey</text></g>
<g id="q59"><circle cx="903" cy="625" r="13.5"/><text x="903" y="622">Lee</text><text x="908" y="634">Jasperson</text></g>
<g id="q60"><circle cx="881" cy="643" r="13.5"/><text x="881" y="646">T.,Asakura</text></g>
<g id="q61"><circle cx="1043" cy="666" r="13.5"/><text x="1043" y="669">Yu. V.,Senatskii</text></g>
<g id="q62"><circle cx="1145" cy="700" r="13.5"/><text x="1145" y="703">A. V.,Vinogradov</text></g>
<g id="q63"><circle cx="1198" cy="726" r="13.5"/><text x="1198" y="729">A. S.,Chirkin</text></g>
<g id="q64"><circle cx="734" cy="572" r="13.5"/><text x="734" y="575">L.,Torri</text></g>
<g id="q65"><circle cx="759" cy="570" r="13.5"/><text x="759" y="573">M.,Imai</text></g>
<g id="r1"><circle cx="1428" cy="96" r="13.5"/><text x="1431" y="99">H.,Ghafoori-Shiraz</text></g>
<g id="r2"><circle cx="1532" cy="13" r="13.5"/><text x="1530" y="16">J. H.,Marsh</text></g>
<g id="r3"><circle cx="1565" cy="18" r="13.5"/><text x="1565" y="21">C. A.,Armstrong</text></g>
<g id="r4"><circle cx="1540" cy="52" r="13.5"/><text x="1545" y="55">J. J.,Lee</text></g>
<g id="r5"><circle cx="1565" cy="52" r="13.5"/></g>
<g id="r6"><circle cx="1565" cy="81" r="13.5"/><text x="1565" y="84">N. L.,Osborne</text></g>
<g id="r7"><circle cx="1360" cy="178" r="13.5"/><text x="1360" y="181">B. L.,Weiss</text></g>
<g id="r8"><circle cx="1497" cy="175" r="13.5"/><text x="1497" y="178">H.,Franke</text></g>
<g id="r9"><circle cx="1416" cy="230" r="13.5"/><text x="1416" y="233">Shizuo,Fujita</text></g>
<g id="r10"><circle cx="1441" cy="246" r="13.5"/><text x="1441" y="249">D.,Erasme</text></g>
<g id="r11"><circle cx="1545" cy="225" r="13.5"/><text x="1545" y="228">I. H.,White</text></g>
<g id="r12"><circle cx="1562" cy="238" r="13.5"/><text x="1565" y="241">D. D.,Bl</text></g>
<g id="r13"><circle cx="1370" cy="269" r="13.5"/><text x="1370" y="272">F.,Petru</text></g>
<g id="r14"><circle cx="1393" cy="269" r="13.5"/><text x="1393" y="272">Shah</text></g>
<g id="r15"><circle cx="1418" cy="269" r="13.5"/><text x="1418" y="272">Singh</text></g>
<g id="r16"><circle cx="1418" cy="288" r="13.5"/><text x="1418" y="291">N. V.,Mor</text></g>
<g id="r17"><circle cx="1466" cy="290" r="13.5"/><text x="1466" y="293">D.,Capelli</text></g>
<g id="r18"><circle cx="1517" cy="290" r="13.5"/><text x="1517" y="293">G. A.,Chernenko</text></g>
<g id="r19"><circle cx="1441" cy="301" r="13.5"/><text x="1441" y="304">D.,Mazilu</text></g>
<g id="r20"><circle cx="1476" cy="305" r="13.5"/><text x="1476" y="308">Kogosov</text></g>
<g id="r21"><circle cx="1327" cy="280" r="13.5"/><text x="1327" y="283">Włodzimierz,Nakwaski</text></g>
<g id="r22"><circle cx="1335" cy="310" r="13.5"/><text x="1335" y="313">D.,Mihalache</text></g>
<g id="r23"><circle cx="1532" cy="310" r="13.5"/><text x="1532" y="313">V. S.,Bargov</text></g>
<g id="r24"><circle cx="1562" cy="316" r="13.5"/><text x="1565" y="319">P. B.,S</text></g>
<g id="r25"><circle cx="1395" cy="327" r="13.5"/><text x="1395" y="330">S. N.,Vlasov</text></g>
<g id="r26"><circle cx="1433" cy="329" r="13.5"/><text x="1433" y="332">Sochal</text></g>
<g id="r27"><circle cx="1476" cy="327" r="13.5"/><text x="1476" y="330">A. A.,Kuznetsov</text></g>
<g id="r28"><circle cx="1527" cy="328" r="13.5"/><text x="1527" y="331">G. F.,Nair</text></g>
<g id="r29"><circle cx="1552" cy="339" r="13.5"/><text x="1555" y="342">V. G.,Popov</text></g>
<g id="r30"><circle cx="1345" cy="337" r="13.5"/><text x="1345" y="340">Y. H.,Lee</text></g>
<g id="r31"><circle cx="1497" cy="339" r="13.5"/><text x="1497" y="342">A.,Mitov</text></g>
<g id="r32"><circle cx="1307" cy="350" r="13.5"/><text x="1307" y="353">M.,Karosek</text></g>
<g id="r33"><circle cx="1383" cy="347" r="13.5"/><text x="1383" y="350">R.,Gur</text></g>
<g id="r34"><circle cx="1405" cy="354" r="13.5"/><text x="1405" y="357">P. N.,Robson</text></g>
<g id="r35"><circle cx="1459" cy="356" r="13.5"/><text x="1459" y="359">K.,Tada</text></g>
<g id="r36"><circle cx="1497" cy="360" r="13.5"/><text x="1497" y="363">G. C.,Bhar</text></g>
<g id="r37"><circle cx="1325" cy="386" r="13.5"/><text x="1325" y="389">T. K.,Das</text></g>
<g id="r38"><circle cx="1408" cy="385" r="13.5"/><text x="1408" y="388">Stavisa,Alekalic</text></g>
<g id="r39"><circle cx="1497" cy="389" r="13.5"/><text x="1497" y="392">V. P.,Kalosha</text></g>
<g id="r40"><circle cx="1542" cy="395" r="13.5"/><text x="1542" y="398">G. J.,Hagan</text></g>
<g id="r41"><circle cx="1365" cy="400" r="13.5"/><text x="1365" y="403">C. P.,Ippen</text></g>
<g id="r42"><circle cx="1335" cy="413" r="13.5"/><text x="1335" y="416">Kazuhiko,Ogusu</text></g>
<g id="r43"><circle cx="1519" cy="415" r="13.5"/><text x="1519" y="418">V. I.,Talanov</text></g>
<g id="r44"><circle cx="1547" cy="436" r="13.5"/><text x="1555" y="439">R. M.,De La Rue</text></g>
<g id="r45"><circle cx="1560" cy="375" r="13.5"/><text x="1565" y="378">M. C.</text></g>
<g id="r46"><circle cx="1560" cy="390" r="13.5"/></g>
<g id="r47"><circle cx="1294" cy="438" r="13.5"/><text x="1294" y="441">L. T.,Bolotskikh</text></g>
<g id="r48"><circle cx="1368" cy="439" r="13.5"/><text x="1368" y="442">V.,Vasallo</text></g>
<g id="r49"><circle cx="1398" cy="467" r="13.5"/><text x="1398" y="470">A. B.,Klimov</text></g>
<g id="r50"><circle cx="1350" cy="473" r="13.5"/><text x="1350" y="476">J. E.,Sipe</text></g>
<g id="r51"><circle cx="1332" cy="494" r="13.5"/><text x="1332" y="497">K.-V.,Stamer</text></g>
<g id="r52"><circle cx="1370" cy="494" r="13.5"/><text x="1370" y="497">F.,Canal</text></g>
<g id="r53"><circle cx="1548" cy="455" r="13.5"/><text x="1552" y="458">M.,Grom</text></g>
<g id="r54"><circle cx="1408" cy="520" r="13.5"/><text x="1408" y="523">T. I.,Kuznetsova</text></g>
<g id="r55"><circle cx="1464" cy="523" r="13.5"/><text x="1464" y="526">A. K.,Popov</text></g>
<g id="r56"><circle cx="1512" cy="580" r="13.5"/><text x="1512" y="583">V. N.,Ochkin</text></g>
<g id="r57"><circle cx="1532" cy="580" r="13.5"/><text x="1537" y="583">Demenkov</text></g>
<g id="r58"><circle cx="1497" cy="599" r="13.5"/><text x="1497" y="602">Toshimitsu,Asakura</text></g>
<g id="s1"><circle cx="1372" cy="674" r="13.5"/><text x="1372" y="677">D. C.,Hanna</text></g>
<g id="s2"><circle cx="1411" cy="700" r="13.5"/><text x="1411" y="703">N. G.,Basov</text></g>
<g id="s3"><circle cx="1433" cy="698" r="13.5"/><text x="1433" y="701">Ivchenko</text></g>
<g id="s4"><circle cx="1464" cy="700" r="13.5"/><text x="1464" y="703">Y. S.,Zuev</text></g>
<g id="s5"><circle cx="1494" cy="693" r="13.5"/><text x="1494" y="696">I.,Molodykh</text></g>
<g id="s6"><circle cx="1474" cy="719" r="13.5"/><text x="1474" y="722">L. D.,Mikheev</text></g>
<g id="s7"><circle cx="1355" cy="732" r="13.5"/><text x="1355" y="735">E. D.,Hinkley</text></g>
<g id="s8"><circle cx="1383" cy="728" r="13.5"/><text x="1383" y="731">A. F.,Suchkov</text></g>
<g id="s9"><circle cx="1469" cy="737" r="13.5"/><text x="1469" y="740">G.,Arnold</text></g>
<g id="s10"><circle cx="1517" cy="739" r="13.5"/><text x="1517" y="742">U.,Rossi</text></g>
<g id="s11"><circle cx="1548" cy="749" r="13.5"/><text x="1555" y="752">A. N.,Oraevsky</text></g>
<g id="s12"><circle cx="1537" cy="755" r="13.5"/><text x="1537" y="758">O. L.,Okhot</text></g>
<g id="s13"><circle cx="1403" cy="745" r="13.5"/><text x="1403" y="748">I. B.,Kovsh</text></g>
<g id="s14"><circle cx="1309" cy="754" r="13.5"/><text x="1309" y="757">J. D.,Love</text></g>
<g id="s15"><circle cx="1337" cy="841" r="13.5"/><text x="1337" y="844">W. A.,Gambling</text></g>
<g id="s16"><circle cx="1372" cy="841" r="13.5"/><text x="1376" y="844">John D.,Love</text></g>
<g id="s17"><circle cx="1291" cy="862" r="13.5"/><text x="1291" y="865">A. C.,Rashleigh</text></g>
<g id="t1"><circle cx="838" cy="664" r="13.5"/><text x="838" y="667">S.,Nemoto</text></g>
<g id="t2"><circle cx="823" cy="692" r="13.5"/><text x="823" y="695">Ricardo,Bianchini</text></g>
<g id="t3"><circle cx="841" cy="702" r="13.5"/><text x="841" y="705">J.,Lentilucci</text></g>
<g id="t4"><circle cx="788" cy="706" r="13.5"/><text x="786" y="709">B. B.,Kryngel</text></g>
<g id="t5"><circle cx="818" cy="711" r="13.5"/><text x="818" y="714">S.,Lundqvist</text></g>
<g id="t6"><circle cx="866" cy="719" r="13.5"/><text x="866" y="722">H.,Henini</text></g>
<g id="t7"><circle cx="798" cy="729" r="13.5"/><text x="798" y="732">Enrique N.</text></g>
<g id="t8"><circle cx="838" cy="729" r="13.5"/><text x="838" y="732">A.,Baba-Ali</text></g>
<g id="t9"><circle cx="798" cy="739" r="13.5"/><text x="798" y="742">V.,Carrera</text></g>
<g id="t10"><circle cx="876" cy="747" r="13.5"/><text x="876" y="750">H.,Hesse</text></g>
<g id="t11"><circle cx="751" cy="744" r="13.5"/><text x="751" y="747">J. N.,Garnet</text></g>
<g id="t12"><circle cx="744" cy="753" r="13.5"/><text x="744" y="756">W.,Lüthy</text></g>
<g id="t13"><circle cx="795" cy="753" r="13.5"/><text x="795" y="756">N.,Zorin</text></g>
<g id="t14"><circle cx="828" cy="757" r="13.5"/><text x="828" y="760">Gronan</text></g>
<g id="t15"><circle cx="859" cy="763" r="13.5"/><text x="859" y="766">C.,Dahlgren</text></g>
<g id="t16"><circle cx="744" cy="774" r="13.5"/><text x="744" y="777">A. A.,Rupasov</text></g>
<g id="t17"><circle cx="793" cy="773" r="13.5"/><text x="793" y="776">M.,Stephan</text></g>
<g id="t18"><circle cx="788" cy="792" r="13.5"/><text x="788" y="795">M.,Mike</text></g>
<g id="t19"><circle cx="836" cy="797" r="13.5"/><text x="836" y="800">E.,Krätzig</text></g>
<g id="t20"><circle cx="806" cy="807" r="13.5"/><text x="806" y="810">L. S.,Lovins</text></g>
<g id="t21"><circle cx="719" cy="807" r="13.5"/><text x="719" y="810">G. D.,Khe</text></g>
<g id="t22"><circle cx="754" cy="813" r="13.5"/><text x="754" y="816">H.,Gagnaire</text></g>
<g id="t23"><circle cx="759" cy="836" r="13.5"/><text x="759" y="839">Warren</text></g>
<g id="t24"><circle cx="759" cy="846" r="13.5"/><text x="759" y="849">G.,Davies</text></g>
<g id="t25"><circle cx="793" cy="847" r="13.5"/><text x="793" y="850">S.,Wolfram</text></g>
<g id="t26"><circle cx="838" cy="859" r="13.5"/><text x="838" y="862">A.,Greiner</text></g>
<g id="t27"><circle cx="952" cy="823" r="13.5"/><text x="952" y="826">E.,Dybin</text></g>
<g id="t28"><circle cx="977" cy="825" r="13.5"/><text x="977" y="828">K.,Alexander</text></g>
<g id="t29"><circle cx="1031" cy="818" r="13.5"/><text x="1031" y="821">R.,Weber</text></g>
<g id="t30"><circle cx="1084" cy="799" r="13.5"/><text x="1084" y="802">R.,Kossing</text></g>
<g id="t31"><circle cx="1122" cy="786" r="13.5"/><text x="1122" y="789">Jia,Zhang</text></g>
<g id="t32"><circle cx="1155" cy="792" r="13.5"/><text x="1155" y="795">M. L.,Dzhibladze</text></g>
<g id="t33"><circle cx="1071" cy="828" r="13.5"/><text x="1071" y="831">Cristian,Morariu</text></g>
<g id="t34"><circle cx="1145" cy="830" r="13.5"/><text x="1145" y="833">Shinobu,Miyagi</text></g>
<g id="t35"><circle cx="1071" cy="842" r="13.5"/><text x="1071" y="845">L. D.,Felsen</text></g>
<g id="t36"><circle cx="1122" cy="847" r="13.5"/><text x="1122" y="850">W.,Bohlig</text></g>
<g id="u1"><circle cx="188" cy="637" r="13.5"/><text x="188" y="640">S.,Mukai</text></g>
<g id="u2"><circle cx="124" cy="657" r="13.5"/><text x="124" y="660">J. A.,Tatum</text></g>
<g id="u3"><circle cx="174" cy="660" r="13.5"/><text x="174" y="663">Shyeming,Wu</text></g>
<g id="u4"><circle cx="213" cy="664" r="13.5"/><text x="213" y="667">V.,Kaneyskii</text></g>
<g id="u5"><circle cx="273" cy="657" r="13.5"/><text x="273" y="660">A. S.,Pleshanov</text></g>
<g id="u6"><circle cx="124" cy="677" r="13.5"/><text x="124" y="680">H.,Itoh</text></g>
<g id="u7"><circle cx="164" cy="677" r="13.5"/><text x="164" y="680">N.,Sissakian</text></g>
<g id="u8"><circle cx="97" cy="684" r="13.5"/><text x="97" y="687">L.,Ledi</text></g>
<g id="u9"><circle cx="198" cy="682" r="13.5"/><text x="198" y="685">N.,Sodha</text></g>
<g id="u10"><circle cx="273" cy="684" r="13.5"/><text x="273" y="687">F.,Bodem</text></g>
<g id="u11"><circle cx="159" cy="693" r="13.5"/><text x="159" y="696">Goldstein</text></g>
<g id="u12"><circle cx="104" cy="700" r="13.5"/><text x="104" y="703">H.</text></g>
<g id="u13"><circle cx="124" cy="700" r="13.5"/><text x="126" y="703">L.,Lin</text></g>
<g id="u14"><circle cx="179" cy="702" r="13.5"/><text x="179" y="705">Sheuei,Wang</text></g>
<g id="u15"><circle cx="248" cy="697" r="13.5"/><text x="248" y="700">J.,Alda</text></g>
<g id="u16"><circle cx="104" cy="711" r="13.5"/><text x="104" y="714">-D.,Reidenbach</text></g>
<g id="u17"><circle cx="223" cy="709" r="13.5"/><text x="223" y="712">Yu,Chen</text></g>
<g id="u18"><circle cx="263" cy="706" r="13.5"/><text x="263" y="709">M. P.,Jiang</text></g>
<g id="u19"><circle cx="159" cy="716" r="13.5"/><text x="159" y="719">Vorobiev</text></g>
<g id="u20"><circle cx="102" cy="725" r="13.5"/><text x="102" y="728">M.,Watanabe</text></g>
<g id="u21"><circle cx="179" cy="721" r="13.5"/><text x="179" y="724">Petrova</text></g>
<g id="u22"><circle cx="129" cy="731" r="13.5"/><text x="129" y="734">G.,Molian</text></g>
<g id="u23"><circle cx="188" cy="729" r="13.5"/><text x="188" y="732">M. A.,B</text></g>
<g id="u24"><circle cx="107" cy="740" r="13.5"/><text x="107" y="743">P. E.,Dyer</text></g>
<g id="u25"><circle cx="174" cy="748" r="13.5"/><text x="174" y="751">Richter</text></g>
<g id="u26"><circle cx="203" cy="752" r="13.5"/><text x="203" y="755">I.,Krivoshlykov</text></g>
<g id="u27"><circle cx="149" cy="757" r="13.5"/><text x="149" y="760">Macfarlane</text></g>
<g id="u28"><circle cx="243" cy="758" r="13.5"/><text x="243" y="761">I.,Piquero</text></g>
<g id="u29"><circle cx="112" cy="763" r="13.5"/><text x="112" y="766">J.,Serna</text></g>
<g id="u30"><circle cx="188" cy="770" r="13.5"/><text x="188" y="773">J. N.,Kuzmin</text></g>
<g id="u31"><circle cx="119" cy="780" r="13.5"/><text x="119" y="783">P. M.,Mejias</text></g>
<g id="u32"><circle cx="164" cy="787" r="13.5"/><text x="164" y="790">I. V.,Kozhevnikov</text></g>
<g id="u33"><circle cx="243" cy="783" r="13.5"/><text x="243" y="786">V. A.,Vorob'ev</text></g>
<g id="u34"><circle cx="429" cy="692" r="13.5"/><text x="429" y="695">T.,Saaskilahti</text></g>
<g id="u35"><circle cx="466" cy="710" r="13.5"/><text x="466" y="713">Y.,Phelan</text></g>
<g id="u36"><circle cx="417" cy="757" r="13.5"/><text x="417" y="760">S. N.,Babenko</text></g>
</g>
<g id="hub-network"><ellipse cx="444" cy="177" rx="26" ry="28" fill="#ff0000"/><text class="hl" x="138" y="197">network/transmission</text></g>
<g id="hub-waveguide"><ellipse cx="1137" cy="389" rx="27" ry="29" fill="#df5500"/><text class="hl" x="982" y="410">waveguide</text></g>
<g id="hub-beam"><ellipse cx="382" cy="723" rx="26" ry="29" fill="#12a812"/><text class="hl" x="190" y="746">beam_quality</text></g>
<g id="beam-cover"><g id="u37"><circle cx="288" cy="731" r="13.5" fill="#fba9a4" stroke="#de948f" stroke-width="0.6"/></g><g id="u38"><circle cx="298" cy="710" r="13.5" fill="#fba9a4" stroke="#de948f" stroke-width="0.6"/></g><g id="u39"><circle cx="407" cy="725" r="13.5" fill="#fba9a4" stroke="#de948f" stroke-width="0.6"/></g></g>
<g id="hub-microscopy"><ellipse cx="1264" cy="548" rx="27" ry="28" fill="#ff0000"/><text class="hl" x="1093" y="567">microscopy</text></g>
<g id="hub-nonlinear"><text class="hl" x="1218" y="480">nonlinear/cavity</text><polygon points="1445,424 1410,493 1480,493" fill="#a9a9ef"/></g>
<g id="hub-superlattice"><text class="hl" x="1241" y="78">superlattice/</text></g>
<g id="hub-te"><text class="hl" x="1539" y="665">te</text></g>
<g id="hub-led"><ellipse cx="921" cy="829" rx="26" ry="28" fill="#d5004c"/><text class="hl" x="800" y="849">led/laser</text></g>
<g id="hub-laser"><text class="hl" x="1143" y="821">laser/laser_radiation</text><polygon points="1407,772 1436,789 1464,770 1437,827" fill="#ff0000"/></g>
<g id="hub-purple"><text class="hl" x="862" y="896">spectroscopy/laser_beam</text><circle cx="1213" cy="868" r="27" fill="#4b0a4b"/></g>
</g>
</svg>
